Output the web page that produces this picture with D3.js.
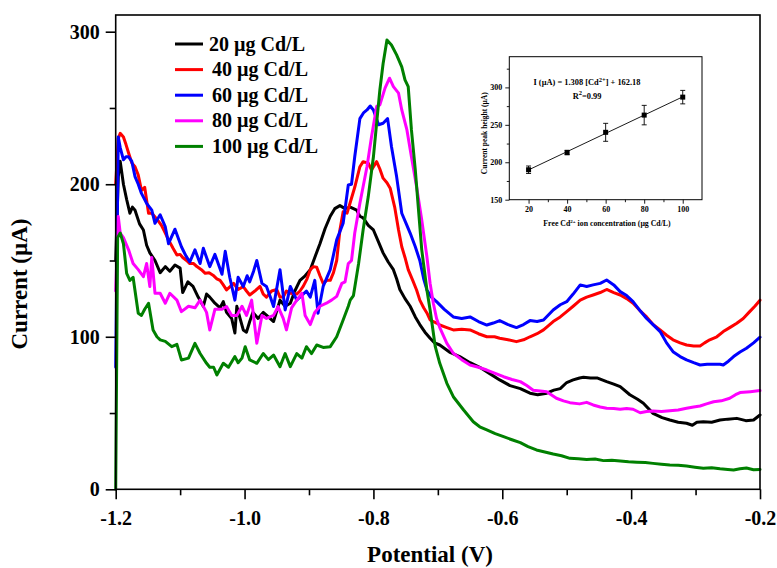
<!DOCTYPE html>
<html><head><meta charset="utf-8">
<script src="https://cdn.jsdelivr.net/npm/d3@7"></script>
<style>
body{margin:0;background:#fff}
svg{display:block}
text{font-family:"Liberation Serif","Times New Roman",serif;font-weight:bold;fill:#000}
</style>
</head><body>
<svg id="chart" width="777" height="568"></svg>
<script>
// Square-wave voltammograms: [potential (V), current (µA)]
const cd20 = [[-1.2,150],[-1.196,205],[-1.193,215],[-1.188,200],[-1.183,190],[-1.178,181],[-1.174,185],[-1.170,183],[-1.163,174],[-1.157,170],[-1.152,160],[-1.147,155],[-1.139,150],[-1.131,142],[-1.123,146],[-1.116,143],[-1.108,147],[-1.100,145],[-1.096,129],[-1.088,136],[-1.080,133],[-1.072,126],[-1.064,120],[-1.059,128],[-1.054,126],[-1.046,122],[-1.038,119],[-1.033,123],[-1.028,116],[-1.020,112],[-1.015,102.5],[-1.012,120],[-1.007,112],[-1.002,104.5],[-0.997,103],[-0.992,110],[-0.987,116],[-0.979,112],[-0.971,116],[-0.963,113],[-0.955,110],[-0.950,117],[-0.945,124],[-0.937,120],[-0.929,122],[-0.922,130],[-0.914,137],[-0.906,140],[-0.898,144],[-0.891,152],[-0.883,161],[-0.875,171],[-0.867,179],[-0.860,184],[-0.852,186],[-0.844,184],[-0.836,185],[-0.826,183],[-0.821,179],[-0.816,178],[-0.808,173],[-0.800,170],[-0.792,162],[-0.785,155],[-0.777,149],[-0.769,144],[-0.764,138],[-0.759,131],[-0.751,125],[-0.743,120],[-0.735,113],[-0.728,108],[-0.720,103],[-0.712,99],[-0.705,96],[-0.697,94.6],[-0.682,90],[-0.666,87],[-0.650,83],[-0.635,80],[-0.620,76],[-0.604,71.7],[-0.588,68],[-0.572,66],[-0.557,63],[-0.545,62],[-0.531,63],[-0.520,65],[-0.510,66],[-0.500,70],[-0.490,71.7],[-0.480,73],[-0.474,73.4],[-0.463,73],[-0.453,73],[-0.438,70.6],[-0.427,69],[-0.417,67.3],[-0.402,62],[-0.390,59],[-0.381,56.4],[-0.366,49.8],[-0.352,47],[-0.340,45.4],[-0.327,44],[-0.314,43.3],[-0.305,42],[-0.298,44],[-0.288,44.3],[-0.275,44],[-0.262,45.4],[-0.250,46],[-0.236,46.5],[-0.222,45],[-0.210,45.4],[-0.2,48.7]];
const cd40 = [[-1.2,200],[-1.196,230],[-1.193,233.4],[-1.188,231],[-1.184,226],[-1.180,220.5],[-1.175,214],[-1.170,211.5],[-1.165,206],[-1.160,196],[-1.155,198],[-1.149,181],[-1.144,181],[-1.139,178.5],[-1.134,176],[-1.129,173],[-1.123,168],[-1.118,163.5],[-1.111,158],[-1.105,153.6],[-1.100,154],[-1.096,152],[-1.090,150],[-1.085,148],[-1.079,148],[-1.074,146],[-1.067,144],[-1.061,141.6],[-1.055,142],[-1.049,140.4],[-1.043,138],[-1.038,137],[-1.033,134],[-1.028,130.7],[-1.022,133],[-1.017,135],[-1.010,131],[-1.002,132.9],[-0.997,130],[-0.992,127.4],[-0.984,130],[-0.976,133],[-0.971,128],[-0.966,126],[-0.958,130],[-0.950,131],[-0.945,126],[-0.940,126],[-0.935,130],[-0.929,128.6],[-0.919,128],[-0.914,130],[-0.909,133],[-0.903,138],[-0.898,144],[-0.893,146],[-0.888,145.6],[-0.883,140],[-0.878,135],[-0.872,137],[-0.867,137],[-0.862,142],[-0.857,150],[-0.852,170],[-0.847,182],[-0.841,181],[-0.836,188],[-0.829,198],[-0.821,211.5],[-0.816,214.8],[-0.808,213.8],[-0.803,209.4],[-0.795,214.8],[-0.790,210],[-0.785,204],[-0.779,201],[-0.774,197.4],[-0.767,185],[-0.761,170],[-0.756,159],[-0.751,152],[-0.746,144],[-0.739,137],[-0.733,130.7],[-0.728,124],[-0.722,119],[-0.717,115.6],[-0.712,111],[-0.702,109],[-0.697,107.7],[-0.686,106],[-0.676,104.5],[-0.663,105],[-0.650,104.5],[-0.637,102],[-0.624,100],[-0.612,100],[-0.604,99],[-0.591,98],[-0.578,96.8],[-0.567,98],[-0.557,100],[-0.546,102],[-0.536,104.5],[-0.521,110],[-0.510,113],[-0.500,116.5],[-0.490,120],[-0.479,124],[-0.469,126],[-0.459,127.4],[-0.448,129],[-0.438,131],[-0.427,129],[-0.417,127.4],[-0.407,125],[-0.397,122],[-0.386,117],[-0.376,113],[-0.366,108],[-0.355,104.5],[-0.345,101],[-0.335,98],[-0.324,96],[-0.314,94.6],[-0.303,94],[-0.293,94],[-0.286,96],[-0.278,98],[-0.267,100],[-0.257,103.4],[-0.247,106],[-0.236,108.9],[-0.226,112],[-0.216,116.5],[-0.208,120],[-0.2,124]];
const cd60 = [[-1.2,80],[-1.196,231],[-1.193,224],[-1.188,216],[-1.184,218],[-1.180,218],[-1.175,215],[-1.170,205],[-1.165,200],[-1.160,194],[-1.152,187.5],[-1.144,183],[-1.139,174.4],[-1.131,180],[-1.123,172],[-1.118,161],[-1.108,170.5],[-1.098,159],[-1.091,153],[-1.085,149],[-1.077,157],[-1.069,148],[-1.064,158],[-1.054,146],[-1.046,154],[-1.035,141],[-1.030,156],[-1.023,139],[-1.015,124],[-1.010,139],[-1.002,133],[-0.996,140],[-0.992,136],[-0.986,143],[-0.981,150],[-0.973,135],[-0.966,133],[-0.960,126],[-0.955,119.8],[-0.945,144],[-0.937,117.6],[-0.929,133],[-0.919,124],[-0.909,128],[-0.904,130],[-0.898,126],[-0.891,137],[-0.886,115.4],[-0.878,133],[-0.867,144],[-0.857,163.5],[-0.847,174.4],[-0.839,199.5],[-0.834,200],[-0.829,218],[-0.821,243],[-0.815,247],[-0.810,248.7],[-0.805,251.3],[-0.800,248.7],[-0.792,239],[-0.785,240],[-0.778,243],[-0.772,224.7],[-0.764,205],[-0.756,181],[-0.749,174],[-0.743,168],[-0.735,159],[-0.728,150],[-0.722,138],[-0.717,130.7],[-0.710,126],[-0.702,123],[-0.690,118],[-0.676,113],[-0.663,112],[-0.650,113],[-0.637,110],[-0.624,107.7],[-0.614,109],[-0.604,110.6],[-0.591,108],[-0.578,106],[-0.567,108],[-0.557,110.6],[-0.546,110],[-0.536,111],[-0.521,117.6],[-0.510,121],[-0.500,123],[-0.490,128],[-0.479,134],[-0.469,133],[-0.459,134],[-0.448,135],[-0.438,137.2],[-0.427,134],[-0.417,129.6],[-0.407,127],[-0.397,123],[-0.386,117],[-0.376,112],[-0.366,108],[-0.355,103.4],[-0.345,96],[-0.335,90.2],[-0.324,87],[-0.314,84.8],[-0.303,83],[-0.293,81.5],[-0.282,82],[-0.272,82],[-0.262,82],[-0.257,81.5],[-0.249,84],[-0.241,87],[-0.231,90],[-0.221,92.5],[-0.210,96],[-0.2,99.7]];
const cd80 = [[-1.2,130],[-1.196,178.8],[-1.193,168],[-1.188,165],[-1.180,157],[-1.173,148],[-1.165,144],[-1.157,139.4],[-1.152,148],[-1.147,132.9],[-1.144,152],[-1.139,128.5],[-1.131,128.5],[-1.123,122],[-1.116,128.5],[-1.105,124],[-1.098,116.5],[-1.087,120],[-1.077,119],[-1.069,124],[-1.059,116],[-1.054,104.5],[-1.046,118],[-1.035,118],[-1.028,119.8],[-1.020,114],[-1.012,114],[-1.004,120],[-0.997,114],[-0.989,124],[-0.981,95.7],[-0.973,114],[-0.966,112],[-0.955,114],[-0.948,119.8],[-0.940,112],[-0.935,104.5],[-0.927,119],[-0.919,124],[-0.911,128.5],[-0.906,114],[-0.898,108],[-0.891,116],[-0.883,120],[-0.873,122],[-0.865,124],[-0.857,126.5],[-0.849,135],[-0.844,136],[-0.839,148],[-0.834,150],[-0.829,168],[-0.821,187.5],[-0.810,211.5],[-0.803,231],[-0.795,251],[-0.790,252],[-0.782,263],[-0.775,269.5],[-0.769,264],[-0.761,259.7],[-0.756,248.7],[-0.748,235.6],[-0.741,218],[-0.733,198.4],[-0.725,176.6],[-0.717,152.5],[-0.712,135],[-0.707,122],[-0.702,112],[-0.697,106],[-0.686,95.7],[-0.676,89.2],[-0.663,85],[-0.650,81.5],[-0.637,80],[-0.624,78.2],[-0.611,76],[-0.598,73.8],[-0.585,72],[-0.572,70.6],[-0.562,68],[-0.552,65],[-0.541,64.5],[-0.531,64],[-0.516,59.7],[-0.505,58],[-0.495,56.8],[-0.480,56],[-0.469,57],[-0.459,55.3],[-0.448,54],[-0.438,53.1],[-0.427,53],[-0.417,52.5],[-0.407,53],[-0.397,52.5],[-0.386,50.2],[-0.376,51],[-0.366,51.3],[-0.353,51],[-0.340,51.5],[-0.327,52],[-0.314,53.1],[-0.303,54],[-0.293,54.6],[-0.283,56],[-0.272,57.4],[-0.260,58],[-0.247,59.7],[-0.238,62],[-0.231,63.4],[-0.215,64],[-0.2,64.7]];
const cd100 = [[-1.2,0],[-1.197,165],[-1.193,168],[-1.188,161],[-1.183,141.6],[-1.178,137],[-1.173,139],[-1.165,115.4],[-1.160,114],[-1.155,118],[-1.149,122],[-1.142,104.5],[-1.136,100],[-1.131,98],[-1.123,97],[-1.113,93.5],[-1.105,95],[-1.098,84.8],[-1.087,86],[-1.077,95.7],[-1.069,89],[-1.059,82.6],[-1.054,80],[-1.048,80],[-1.043,75],[-1.033,82.6],[-1.025,80],[-1.015,87],[-1.010,83],[-1.004,86],[-0.999,93.5],[-0.992,84.8],[-0.981,82.6],[-0.971,89],[-0.963,85],[-0.955,88],[-0.945,80.4],[-0.937,89],[-0.929,80.4],[-0.919,89],[-0.911,86],[-0.904,93.5],[-0.896,89],[-0.888,94.6],[-0.878,93],[-0.867,93.5],[-0.857,100],[-0.847,111],[-0.839,120],[-0.836,124],[-0.831,127],[-0.823,148],[-0.816,170],[-0.808,191.9],[-0.800,218],[-0.795,240],[-0.790,261.8],[-0.785,279],[-0.779,294.6],[-0.772,291.3],[-0.764,284.8],[-0.756,277],[-0.751,268.4],[-0.746,264],[-0.741,235.6],[-0.735,209.4],[-0.730,183],[-0.725,157],[-0.717,130.7],[-0.712,117.6],[-0.704,93.5],[-0.697,82.6],[-0.686,69.5],[-0.676,60.7],[-0.660,52],[-0.645,44.3],[-0.635,41],[-0.624,38.9],[-0.611,36.5],[-0.598,34.5],[-0.585,32.5],[-0.572,30.6],[-0.560,28],[-0.547,25.8],[-0.534,24.5],[-0.521,23.1],[-0.508,22],[-0.495,20.3],[-0.482,20],[-0.469,19.5],[-0.456,19.8],[-0.443,18.8],[-0.430,19],[-0.417,18.5],[-0.404,18],[-0.391,17.7],[-0.378,17.5],[-0.366,17],[-0.353,16.5],[-0.340,15.9],[-0.327,15.8],[-0.314,15.2],[-0.301,14.5],[-0.288,13.8],[-0.275,14.2],[-0.262,13.5],[-0.250,13],[-0.241,12.7],[-0.231,13.5],[-0.221,14],[-0.210,12.8],[-0.2,13]];

const seriesData = [cd20, cd40, cd60, cd80, cd100];
const seriesLabels = ["20 µg Cd/L", "40 µg Cd/L", "60 µg Cd/L", "80 µg Cd/L", "100 µg Cd/L"];
const seriesColors = ["#000000", "#ff0000", "#0000ff", "#ff00ff", "#008000"];

const xMajorTicks = [-1.2, -1.0, -0.8, -0.6, -0.4, -0.2];
const xMinorTicks = [-1.1, -0.9, -0.7, -0.5, -0.3];
const yMajorTicks = [0, 100, 200, 300];
const yMinorTicks = [50, 150, 250];

// Calibration inset: peak current vs free Cd2+ concentration
const concentrations = [20, 40, 60, 80, 100];
const peakHeights = [190, 213, 240, 263, 287];
const peakErrors = [5, 3, 12, 13, 9];
const insetXTicks = [20, 40, 60, 80, 100];
const insetXMinor = [30, 50, 70, 90];
const insetYTicks = [150, 200, 250, 300];
const insetYMinor = [175, 225, 275, 325];

const svg = d3.select("#chart");
const M = {left: 115.7, right: 760, top: 15, bottom: 489.3};

const x = d3.scaleLinear().domain([-1.2, -0.2]).range([M.left, M.right]);
const y = d3.scaleLinear().domain([0, 310.95]).range([M.bottom, M.top]);

// curves
const line = d3.line().x(d => x(d[0])).y(d => y(d[1]));
const curves = svg.append("g");
seriesData.forEach((s, i) => {
  curves.append("path").datum(s)
    .attr("d", line)
    .attr("fill", "none")
    .attr("stroke", seriesColors[i])
    .attr("stroke-width", 3)
    .attr("stroke-linejoin", "round")
    .attr("stroke-linecap", "round");
});

// frame
svg.append("rect")
  .attr("x", M.left).attr("y", M.top)
  .attr("width", M.right - M.left).attr("height", M.bottom - M.top)
  .attr("fill", "none").attr("stroke", "#000").attr("stroke-width", 1.6);

// axes
const xAxis = svg.append("g").attr("transform", `translate(0,${M.bottom})`)
  .call(d3.axisBottom(x).tickValues(xMajorTicks).tickSize(10).tickPadding(12)
    .tickFormat(d3.format(".1f")));
svg.append("g").attr("transform", `translate(0,${M.bottom})`)
  .call(d3.axisBottom(x).tickValues(xMinorTicks).tickSize(6).tickFormat(""));
const yAxis = svg.append("g").attr("transform", `translate(${M.left},0)`)
  .call(d3.axisLeft(y).tickValues(yMajorTicks).tickSize(10).tickPadding(6));
svg.append("g").attr("transform", `translate(${M.left},0)`)
  .call(d3.axisLeft(y).tickValues(yMinorTicks).tickSize(6).tickFormat(""));

svg.selectAll(".domain").remove();
svg.selectAll(".tick line").attr("stroke", "#000").attr("stroke-width", 1.6);
xAxis.selectAll("text").attr("font-size", 20).attr("font-family", null).attr("dy", "0.71em")
  .text(d => d3.format(".1f")(d).replace("−", "-"));
yAxis.selectAll("text").attr("font-size", 20).attr("font-family", null);

// axis titles
svg.append("text").attr("x", 430).attr("y", 562)
  .attr("text-anchor", "middle").attr("font-size", 23).text("Potential (V)");
svg.append("text").attr("transform", "translate(27,284) rotate(-90)")
  .attr("text-anchor", "middle").attr("font-size", 23).text("Current (µA)");

// legend
const legend = svg.append("g");
seriesLabels.forEach((lab, i) => {
  const ly = 44 + i * 25.6;
  legend.append("line").attr("x1", 175).attr("x2", 203).attr("y1", ly).attr("y2", ly)
    .attr("stroke", seriesColors[i]).attr("stroke-width", 3);
  legend.append("text").attr("x", i === 0 ? 209 : 212).attr("y", ly + 6.5)
    .attr("font-size", 20).text(lab);
});

// inset
const I = {left: 509.3, right: 702, top: 56.7, bottom: 199.7};
const ix = d3.scaleLinear().domain([10, 110]).range([I.left, I.right]);
const iy = d3.scaleLinear().domain([150, 341]).range([I.bottom, I.top]);
const inset = svg.append("g");
inset.append("rect").attr("x", I.left).attr("y", I.top)
  .attr("width", I.right - I.left).attr("height", I.bottom - I.top)
  .attr("fill", "#fff").attr("stroke", "#000").attr("stroke-width", 1);

inset.append("g").attr("transform", `translate(0,${I.bottom})`)
  .call(d3.axisBottom(ix).tickValues(insetXTicks).tickSize(4).tickPadding(3));
inset.append("g").attr("transform", `translate(0,${I.bottom})`)
  .call(d3.axisBottom(ix).tickValues(insetXMinor).tickSize(2.5).tickFormat(""));
inset.append("g").attr("transform", `translate(${I.left},0)`)
  .call(d3.axisLeft(iy).tickValues(insetYTicks).tickSize(4).tickPadding(3));
inset.append("g").attr("transform", `translate(${I.left},0)`)
  .call(d3.axisLeft(iy).tickValues(insetYMinor).tickSize(2.5).tickFormat(""));
inset.selectAll(".domain").remove();
inset.selectAll(".tick line").attr("stroke", "#000").attr("stroke-width", 0.9);
inset.selectAll(".tick text").attr("font-size", 8).attr("font-family", null);

// least-squares fit through the calibration points
const mx = d3.mean(concentrations), my = d3.mean(peakHeights);
const slope = d3.sum(concentrations, (c, k) => (c - mx) * (peakHeights[k] - my)) /
  d3.sum(concentrations, c => (c - mx) ** 2);
const icpt = my - slope * mx;
const cMin = d3.min(concentrations), cMax = d3.max(concentrations);
inset.append("line")
  .attr("x1", ix(cMin)).attr("y1", iy(icpt + slope * cMin))
  .attr("x2", ix(cMax)).attr("y2", iy(icpt + slope * cMax))
  .attr("stroke", "#000").attr("stroke-width", 0.9);

concentrations.forEach((c, k) => {
  const cx = ix(c), y0 = iy(peakHeights[k] - peakErrors[k]), y1 = iy(peakHeights[k] + peakErrors[k]);
  inset.append("line").attr("x1", cx).attr("x2", cx).attr("y1", y0).attr("y2", y1)
    .attr("stroke", "#000").attr("stroke-width", 0.9);
  [y0, y1].forEach(yy => inset.append("line").attr("x1", cx - 2.5).attr("x2", cx + 2.5)
    .attr("y1", yy).attr("y2", yy).attr("stroke", "#000").attr("stroke-width", 0.9));
  inset.append("rect").attr("x", cx - 2.5).attr("y", iy(peakHeights[k]) - 2.5)
    .attr("width", 5).attr("height", 5).attr("fill", "#000");
});

const eq = inset.append("text").attr("x", 587).attr("y", 85).attr("text-anchor", "middle")
  .attr("font-size", 8.4);
eq.append("tspan").text("I (µA) = 1.308 [Cd");
eq.append("tspan").attr("dy", -3.5).attr("font-size", 6.5).text("2+");
eq.append("tspan").attr("dy", 3.5).text("] + 162.18");
const r2 = inset.append("text").attr("x", 587).attr("y", 98.5).attr("text-anchor", "middle")
  .attr("font-size", 8.4);
r2.append("tspan").text("R");
r2.append("tspan").attr("dy", -3.5).attr("font-size", 6.5).text("2");
r2.append("tspan").attr("dy", 3.5).text("=0.99");

inset.append("text").attr("transform", `translate(487,${(I.top + I.bottom) / 2 + 5}) rotate(-90)`)
  .attr("text-anchor", "middle").attr("font-size", 7.5).text("Current peak height (µA)");
const xl = inset.append("text").attr("x", 607).attr("y", 226).attr("text-anchor", "middle")
  .attr("font-size", 7.8);
xl.append("tspan").text("Free Cd");
xl.append("tspan").attr("dy", -3).attr("font-size", 5).text("2+");
xl.append("tspan").attr("dy", 3).text(" ion concentration (µg Cd/L)");
</script>
</body></html>
